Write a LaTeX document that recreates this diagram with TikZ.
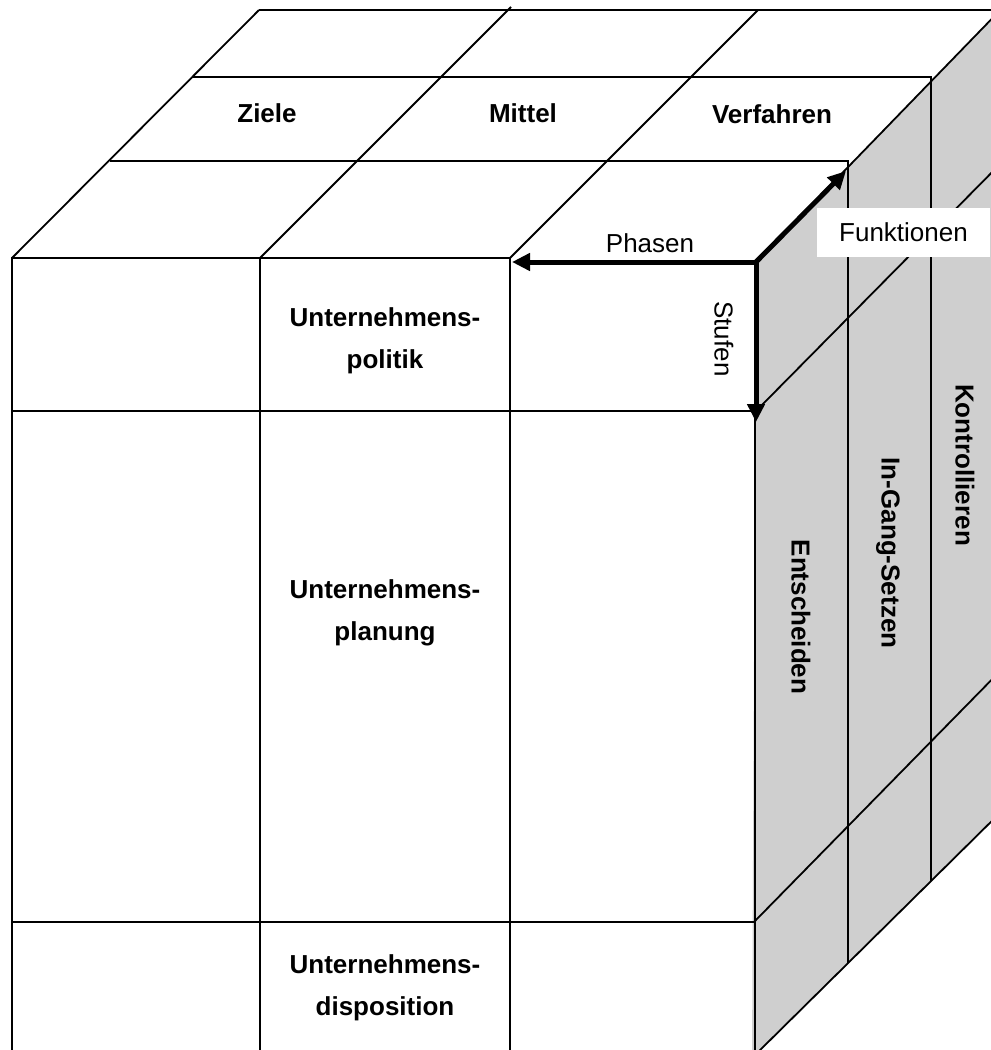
\documentclass[tikz,border=0pt]{standalone}
\usepackage{fontspec}
\setmainfont{Liberation Sans}
\usetikzlibrary{arrows.meta}
\definecolor{sidegray}{RGB}{207,207,207}
\tikzset{
  edge/.style={line width=1.8pt, line join=miter},
  axis/.style={line width=5pt, -{Triangle[length=18pt,width=17pt]}},
  lbl/.style={font=\fontsize{26}{42}\selectfont\bfseries, align=center, inner sep=0pt},
  axlbl/.style={font=\fontsize{26}{42}\selectfont, inner sep=0pt},
  tagbox/.style={fill=white, inner sep=0pt, minimum width=173pt, minimum height=49pt,
    font=\fontsize{26}{42}\selectfont},
}
\begin{document}
\begin{tikzpicture}[x=1pt,y=-1pt]
\useasboundingbox (0,0) rectangle (991,1050);
\begin{scope}
\clip (0,0) rectangle (991,1050);

% front corners of the cube
\coordinate (F0) at (12,258);
\coordinate (F1) at (260,258);
\coordinate (F2) at (510,258);
\coordinate (F3) at (756,262);

% right (grey) face
\fill[sidegray] (F3) -- (1010,0) -- (1010,803) -- (752,1058) -- cycle;

% top face
\draw[edge] (259,10) -- (991,10);
\draw[edge] (193,77) -- (931,77) -- (931,881);
\draw[edge] (110,161) -- (848,161) -- (848,963);
\draw[edge] (F0) -- (259,10);
\draw[edge] (F1) -- (511,7);
\draw[edge] (F2) -- (758,10);

% front face
\draw[edge] (12,1050) -- (F0) -- (F2);
\draw[edge] (F1) -- (260,1050);
\draw[edge] (F2) -- (510,1050);
\draw[edge] (755,262) -- (755,1050);
\draw[edge] (12,411) -- (755,411);
\draw[edge] (12,922) -- (755,922);

% right face edges
\draw[edge] (F3) -- (1010,0);
\draw[edge] (756,411) -- (1010,154);
\draw[edge] (754,922) -- (1010,661);
\draw[edge] (752,1058) -- (1010,803);
\end{scope}

% label of the depth axis
\node[tagbox] (fkt) at (903.5,232.5) {Funktionen};

% axes
\coordinate (O) at (756,262);
\coordinate (P) at (512,262);
\coordinate (S) at (756,422);
\coordinate (K) at (846,171);
\draw[axis] (O) -- (P);
\draw[axis] (O) -- (S);
\draw[axis] (O) -- (K);
\node[axlbl] (phasen) at (650,243) {Phasen};
\node[axlbl, rotate=-90] (stufen) at (724,339) {Stufen};

% phases
\node[lbl] (ziele) at (267,113) {Ziele};
\node[lbl] (mittel) at (523,113) {Mittel};
\node[lbl] (verf) at (772,114) {Verfahren};

% levels
\node[lbl] (pol) at (385,341) {Unternehmens-\\politik};
\node[lbl] (plan) at (385,613) {Unternehmens-\\planung};
\node[lbl] (disp) at (385,988) {Unternehmens-\\disposition};

% functions
\node[lbl, rotate=-90] (ent) at (801,617) {Entscheiden};
\node[lbl, rotate=-90] (igs) at (888,553) {In-Gang-Setzen};
\node[lbl, rotate=-90] (kon) at (965,465) {Kontrollieren};
\end{tikzpicture}
\end{document}
